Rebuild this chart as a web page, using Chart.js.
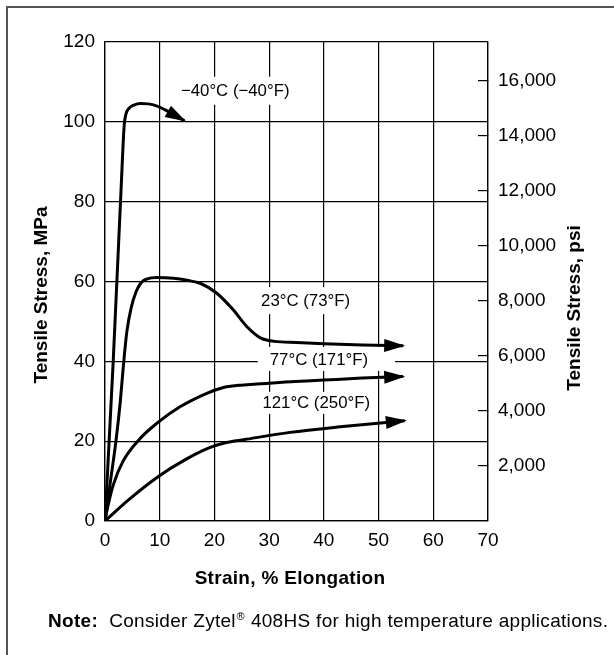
<!DOCTYPE html>
<html><head><meta charset="utf-8">
<script src="https://cdn.jsdelivr.net/npm/chart.js@4"></script>
<style>html,body{margin:0;padding:0;background:#fff}#wrap{width:614px;height:655px}</style>
</head><body><div id="wrap"><canvas id="c" width="614" height="655"></canvas></div>
<script>
// ---- data ----
const strainTicks = [0, 10, 20, 30, 40, 50, 60, 70];
const mpaTicks = [0, 20, 40, 60, 80, 100, 120];
const psiTicks = [2000, 4000, 6000, 8000, 10000, 12000, 14000, 16000];
const curveLabels = ['\u221240\u00B0C (\u221240\u00B0F)', '23\u00B0C (73\u00B0F)', '77\u00B0C (171\u00B0F)', '121\u00B0C (250\u00B0F)'];

const strainM40 = [0, 1.5, 3.0, 3.5, 3.8, 4.4, 5.3, 6.4, 7.9, 9.4, 11.0, 14.5];
const stressM40 = [0, 40, 85, 99, 101.8, 103.4, 104.2, 104.6, 104.5, 104.0, 103.0, 100.3];

const strain23 = [0, 1.0, 2.0, 2.8, 3.4, 4.0, 4.8, 5.7, 6.6, 7.6, 9.5, 12.5, 15.0, 17.5, 20.5, 23.5, 26.0, 28.5, 31.0, 35.0, 40.0, 47.0, 54.5];
const stress23 = [0, 10, 20, 30, 39.5, 47.5, 53.5, 57.5, 59.7, 60.6, 61.0, 60.8, 60.3, 59.5, 57.0, 52.8, 48.6, 45.8, 45.0, 44.7, 44.4, 44.1, 43.9];

const strain77 = [0, 0.5, 1.5, 3.3, 6.3, 9.5, 13.7, 18.6, 21.5, 24.5, 27.7, 33.0, 40.0, 47.0, 54.5];
const stress77 = [0, 3.5, 9.0, 15.0, 20.5, 24.5, 28.6, 32.0, 33.4, 34.0, 34.3, 34.8, 35.3, 35.8, 36.2];

const strain121 = [0, 4.3, 9.7, 14.6, 19.0, 22.0, 25.5, 33.8, 43.0, 54.8];
const stress121 = [0, 5.3, 11.1, 15.3, 18.3, 19.6, 20.4, 22.2, 23.6, 25.1];

// label anchor positions (data units: strain %, MPa)
const labelStrain = [23.8, 36.65, 39.1, 38.6];
const labelStress = [107.8, 55.2, 40.6, 29.6];

const MPA_TO_PSI = 145.038;

// ---- helpers ----
const FONT = "'Liberation Sans', Arial, Helvetica, sans-serif";
function pts(xs, ys) { return xs.map((x, i) => ({ x: x, y: ys[i] })); }
function ds(label, xs, ys) {
  return { label: label, data: pts(xs, ys), borderColor: '#000', borderWidth: 3,
    pointRadius: 0, fill: false, cubicInterpolationMode: 'monotone', borderCapStyle: 'butt' };
}

// label box styles: [padLeft, padRight, halfHeight]
const labelBox = [[4, 4, 14], [6, 6, 13.5], [12, 27, 12], [6, 6, 11]];

const deco = {
  id: 'deco',
  beforeDraw(chart) {
    const ctx = chart.ctx;
    ctx.save();
    ctx.fillStyle = '#fff';
    ctx.fillRect(0, 0, chart.width, chart.height);
    ctx.strokeStyle = '#555';
    ctx.lineWidth = 2;
    ctx.beginPath();
    ctx.moveTo(7, 655); ctx.lineTo(7, 7); ctx.lineTo(614, 7);
    ctx.stroke();
    ctx.restore();
  },
  beforeDatasetsDraw(chart) {
    const ctx = chart.ctx, xs = chart.scales.x, ys = chart.scales.y;
    ctx.save();
    ctx.font = '16.8px ' + FONT;
    ctx.textBaseline = 'middle';
    ctx.textAlign = 'center';
    curveLabels.forEach((t, i) => {
      const cx = xs.getPixelForValue(labelStrain[i]);
      const cy = ys.getPixelForValue(labelStress[i]);
      const w = ctx.measureText(t).width;
      const b = labelBox[i];
      ctx.fillStyle = '#fff';
      ctx.fillRect(cx - w / 2 - b[0], cy - b[2], w + b[0] + b[1], b[2] * 2);
      ctx.fillStyle = '#000';
      ctx.fillText(t, cx, cy + 1);
    });
    ctx.restore();
  },
  afterDatasetsDraw(chart) {
    const ctx = chart.ctx;
    ctx.save();
    ctx.fillStyle = '#000';
    chart.data.datasets.forEach((d, i) => {
      const meta = chart.getDatasetMeta(i);
      const n = meta.data.length;
      const p = meta.data[n - 1], q = meta.data[n - 2];
      let dx = p.x - q.x, dy = p.y - q.y;
      if (p.cp1x !== undefined && Math.hypot(p.x - p.cp1x, p.y - p.cp1y) > 0.5) { dx = p.x - p.cp1x; dy = p.y - p.cp1y; }
      const L = Math.hypot(dx, dy); const ux = dx / L, uy = dy / L;
      const tx = p.x + ux * 2, ty = p.y + uy * 2;
      const len = 21, hw = 6.5;
      const bx = tx - ux * len, by = ty - uy * len;
      ctx.beginPath();
      ctx.moveTo(tx, ty);
      ctx.lineTo(bx - uy * hw, by + ux * hw);
      ctx.lineTo(bx + uy * hw, by - ux * hw);
      ctx.closePath();
      ctx.fill();
    });
    ctx.restore();
  },
  afterDraw(chart) {
    const ctx = chart.ctx;
    ctx.save();
    ctx.fillStyle = '#000';
    ctx.textBaseline = 'middle';
    ctx.textAlign = 'center';
    ctx.font = 'bold 19px ' + FONT;
    ctx.letterSpacing = '0.3px';
    ctx.fillText('Strain, % Elongation', 290, 579);
    ctx.letterSpacing = '0px';
    ctx.save();
    ctx.translate(42, 295); ctx.rotate(-Math.PI / 2);
    ctx.fillText('Tensile Stress, MPa', 0, 0);
    ctx.restore();
    ctx.save();
    ctx.translate(575, 308); ctx.rotate(-Math.PI / 2);
    ctx.fillText('Tensile Stress, psi', 0, 0);
    ctx.restore();
    // note
    ctx.textAlign = 'left';
    ctx.textBaseline = 'alphabetic';
    ctx.letterSpacing = '0.3px';
    let x = 48; const y = 627;
    ctx.font = 'bold 19px ' + FONT;
    ctx.fillText('Note:', x, y); x += ctx.measureText('Note:').width;
    ctx.font = '19px ' + FONT;
    const a = '\u00A0\u00A0Consider Zytel';
    ctx.fillText(a, x, y); x += ctx.measureText(a).width;
    ctx.font = '11px ' + FONT;
    ctx.fillText('\u00AE', x + 0.5, y - 7); x += ctx.measureText('\u00AE').width + 1;
    ctx.font = '19px ' + FONT;
    ctx.fillText(' 408HS for high temperature applications.', x, y);
    ctx.restore();
  }
};

Chart.defaults.font.family = FONT;
Chart.defaults.font.size = 19;
Chart.defaults.color = '#000';

new Chart(document.getElementById('c'), {
  type: 'line',
  data: { datasets: [
    ds(curveLabels[0], strainM40, stressM40),
    ds(curveLabels[1], strain23, stress23),
    ds(curveLabels[2], strain77, stress77),
    ds(curveLabels[3], strain121, stress121)
  ] },
  options: {
    responsive: false, animation: false, devicePixelRatio: 1,
    layout: { padding: { top: 42, left: 0, right: 0, bottom: 0 } },
    plugins: { legend: { display: false }, tooltip: { enabled: false } },
    scales: {
      x: {
        type: 'linear', min: 0, max: 70,
        afterBuildTicks: s => { s.ticks = strainTicks.map(v => ({ value: v })); },
        afterFit: s => { s.height = 134; },
        ticks: { padding: 8, maxRotation: 0, font: { size: 19 } },
        grid: { color: '#000', lineWidth: 1.2, drawTicks: false },
        border: { display: true, color: '#000', width: 1.3 }
      },
      y: {
        position: 'left', min: 0, max: 120,
        afterBuildTicks: s => { s.ticks = mpaTicks.map(v => ({ value: v })); },
        afterFit: s => { s.width = 105; },
        ticks: { padding: 10, font: { size: 19 } },
        grid: { color: '#000', lineWidth: 1.2, drawTicks: false },
        border: { display: true, color: '#000', width: 1.3 }
      },
      y2: {
        position: 'right', min: 0, max: 120 * MPA_TO_PSI,
        afterBuildTicks: s => { s.ticks = psiTicks.map(v => ({ value: v })); },
        afterFit: s => { s.width = 126; },
        ticks: { padding: 20, font: { size: 19 }, callback: v => v.toLocaleString('en-US') },
        grid: { color: '#000', lineWidth: 1.2, drawOnChartArea: false, drawTicks: true, tickLength: -10 },
        border: { display: true, color: '#000', width: 1.3 }
      }
    }
  },
  plugins: [deco]
});
</script>
</body></html>
